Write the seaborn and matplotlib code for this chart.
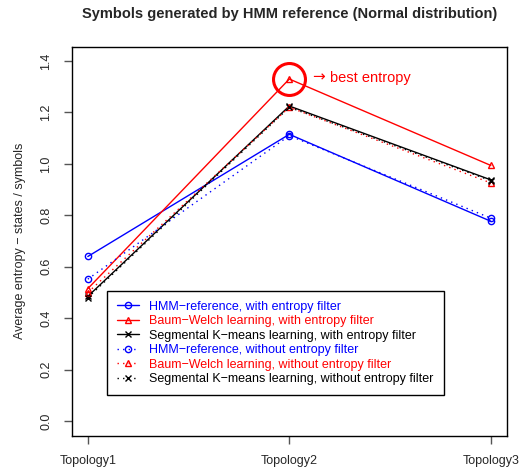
import numpy as np
import pandas as pd
import matplotlib
matplotlib.use("Agg")
import matplotlib.pyplot as plt
import seaborn as sns

sns.set_style("ticks")
plt.rcParams['font.family'] = ['Liberation Sans', 'DejaVu Sans']

# ---------------------------------------------------------------------------
# data
# ---------------------------------------------------------------------------
topologies = ["Topology1", "Topology2", "Topology3"]
topo_pos = [1, 2, 3]

hmm_filter = [0.64, 1.115, 0.777]
bw_filter = [0.515, 1.33, 0.994]
skm_filter = [0.485, 1.225, 0.938]
hmm_nofilter = [0.552, 1.11, 0.789]
bw_nofilter = [0.50, 1.22, 0.926]
skm_nofilter = [0.48, 1.22, 0.935]

series = [
    ("HMM\u2212reference, with entropy filter", hmm_filter, "blue", "-", "o"),
    ("Baum\u2212Welch learning, with entropy filter", bw_filter, "red", "-", "^"),
    ("Segmental K\u2212means learning, with entropy filter", skm_filter, "black", "-", "x"),
    ("HMM\u2212reference, without entropy filter", hmm_nofilter, "blue", (0, (1, 3)), "o"),
    ("Baum\u2212Welch learning, without entropy filter", bw_nofilter, "red", (0, (1, 3)), "^"),
    ("Segmental K\u2212means learning, without entropy filter", skm_nofilter, "black", (0, (1, 3)), "x"),
]

# ---------------------------------------------------------------------------
# plot
# ---------------------------------------------------------------------------
fig = plt.figure(figsize=(5.21, 4.68), dpi=100)
ax = fig.add_axes([0.1376, 0.0694, 0.8354, 0.831])

for label, vals, col, ls, mk in series:
    df = pd.DataFrame({"x": topo_pos, "y": vals})
    sns.lineplot(data=df, x="x", y="y", ax=ax, color=col, linestyle=ls, lw=1.0,
                 marker=mk, markersize=4.5,
                 markerfacecolor="none", markeredgecolor=col, markeredgewidth=1.0,
                 label=label, sort=False)

# highlight best entropy
best = int(np.argmax(bw_filter))
ax.plot(topo_pos[best], bw_filter[best], marker="o", markersize=23,
        markerfacecolor="none", markeredgecolor="red", markeredgewidth=2.2, zorder=5)
ax.text(topo_pos[best] + 0.115, bw_filter[best] + 0.008, "\u2192",
        color="red", fontsize=11, va="center", ha="left", family="DejaVu Sans")
ax.text(topo_pos[best] + 0.2, bw_filter[best] + 0.005, "best entropy",
        color="red", fontsize=10.5, va="center", ha="left")

ax.set_xlim(0.92, 3.08)
ax.set_ylim(-0.056, 1.456)
ax.set_xticks(topo_pos)
ax.set_xticklabels(topologies, fontsize=9)
ax.set_yticks(np.arange(0, 1.41, 0.2))
ax.set_yticklabels([f"{v:.1f}" for v in np.arange(0, 1.41, 0.2)], fontsize=9,
                   rotation=90, va="center")
ax.tick_params(axis="both", length=6, width=1, color="#555555", pad=8)
ax.set_xlabel("")
ax.set_ylabel("Average entropy \u2212 states / symbols", fontsize=9, labelpad=10)
for s in ax.spines.values():
    s.set_linewidth(1.0)
    s.set_color("black")
    s.set_visible(True)

leg = ax.legend(loc="upper left", bbox_to_anchor=(0.081, 0.372), fontsize=9,
                labelcolor="linecolor", fancybox=False, edgecolor="black",
                framealpha=1, handlelength=1.8, borderpad=0.8, labelspacing=0.2,
                handletextpad=0.8, borderaxespad=0)
leg.get_frame().set_linewidth(1.0)

fig.suptitle("Symbols generated by HMM reference (Normal distribution)",
             fontsize=10.5, fontweight="bold", x=0.555, y=0.985)

fig.savefig("out.png", dpi=100)
